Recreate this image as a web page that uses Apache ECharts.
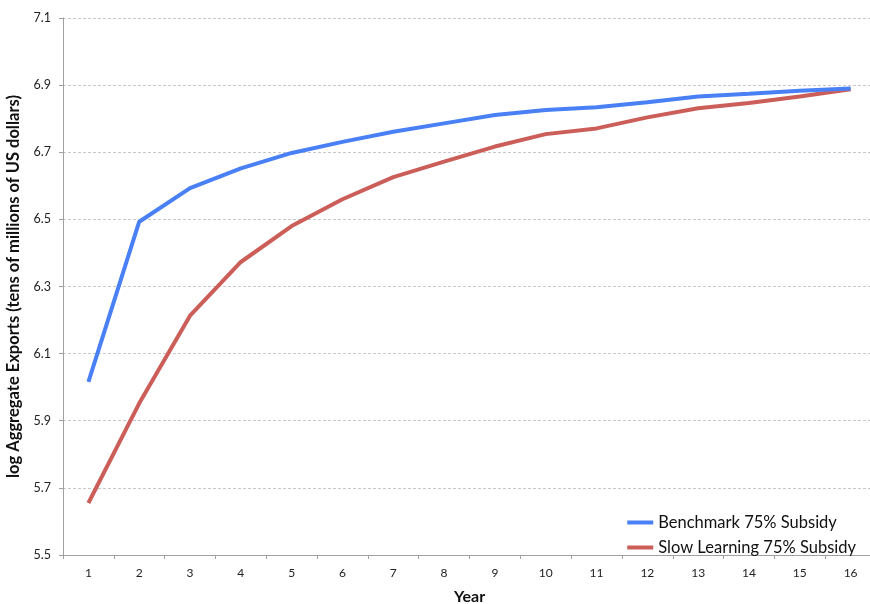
<!DOCTYPE html>
<html>
<head>
<meta charset="utf-8">
<script src="https://cdn.jsdelivr.net/npm/echarts@6/dist/echarts.min.js"></script>
<style>
html,body{margin:0;padding:0;background:#fff;overflow:hidden;}
#chart{width:870px;height:604px;}
</style>
</head>
<body>
<div id="chart"></div>
<script>
const years = ['1','2','3','4','5','6','7','8','9','10','11','12','13','14','15','16'];
const benchmark = [6.016, 6.493, 6.593, 6.652, 6.698, 6.731, 6.761, 6.786, 6.811, 6.826, 6.834, 6.849, 6.866, 6.874, 6.883, 6.890];
const slowLearning = [5.655, 5.952, 6.213, 6.373, 6.480, 6.560, 6.626, 6.672, 6.717, 6.754, 6.771, 6.804, 6.831, 6.847, 6.866, 6.888];
const yTicks = {min: 5.5, max: 7.1, interval: 0.2};

const chart = echarts.init(document.getElementById('chart'), null, {renderer: 'canvas', width: 870, height: 604});
const font = 'Lato, "Open Sans", sans-serif';
chart.setOption({
  animation: false,
  backgroundColor: '#ffffff',
  grid: {left: 63, top: 18, width: 813, height: 537, containLabel: false, outerBoundsMode: 'none'},
  legend: {
    orient: 'vertical',
    right: 9,
    top: 509,
    itemWidth: 26,
    itemHeight: 4,
    itemGap: 8,
    icon: 'rect',
    textStyle: {fontFamily: font, fontSize: 16.5, color: '#111'},
    data: ['Benchmark 75% Subsidy', 'Slow Learning 75% Subsidy']
  },
  xAxis: {
    type: 'category',
    data: years,
    boundaryGap: true,
    name: 'Year',
    nameLocation: 'middle',
    nameGap: 34,
    nameTextStyle: {fontFamily: font, fontSize: 16, fontWeight: 'bold', color: '#111'},
    axisLine: {lineStyle: {color: '#a0a0a0', width: 1}},
    axisTick: {show: true, length: 4, lineStyle: {color: '#a0a0a0'}},
    axisLabel: {fontFamily: font, fontSize: 12, color: '#222', margin: 12},
    splitLine: {show: false}
  },
  yAxis: {
    type: 'value',
    min: yTicks.min,
    max: yTicks.max,
    interval: yTicks.interval,
    name: 'log Aggregate Exports (tens of millions of US dollars)',
    nameLocation: 'middle',
    nameGap: 36,
    nameTextStyle: {fontFamily: font, fontSize: 16.5, fontWeight: 'bold', color: '#111'},
    axisLine: {show: true, lineStyle: {color: '#a0a0a0', width: 1}},
    axisTick: {show: true, length: 4, lineStyle: {color: '#a0a0a0'}},
    axisLabel: {fontFamily: font, fontSize: 12.5, color: '#222', margin: 12,
      formatter: v => v.toFixed(1)},
    splitLine: {show: true, lineStyle: {color: '#c8c8c8', type: [3, 2], width: 1}}
  },
  series: [
    {
      name: 'Benchmark 75% Subsidy',
      type: 'line',
      data: benchmark,
      showSymbol: false,
      symbol: 'none',
      lineStyle: {color: '#4a80f5', width: 4},
      itemStyle: {color: '#4a80f5'},
      z: 3
    },
    {
      name: 'Slow Learning 75% Subsidy',
      type: 'line',
      data: slowLearning,
      showSymbol: false,
      symbol: 'none',
      lineStyle: {color: '#cc5e59', width: 4},
      itemStyle: {color: '#cc5e59'},
      z: 2
    }
  ]
});
</script>
</body>
</html>
